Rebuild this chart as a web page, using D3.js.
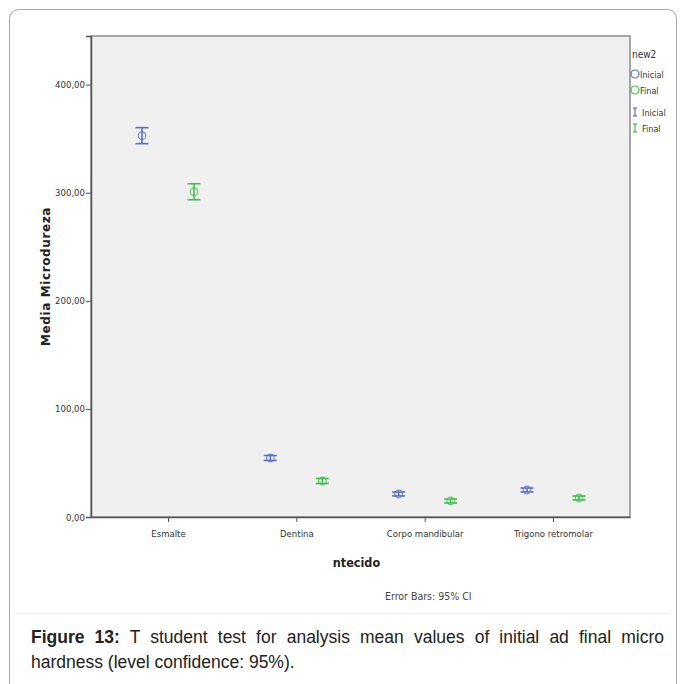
<!DOCTYPE html>
<html>
<head>
<meta charset="utf-8">
<script src="https://cdn.jsdelivr.net/npm/d3@7"></script>
<style>
  body { margin: 0; background: #fff; }
  svg { display: block; }
</style>
</head>
<body>
<svg id="chart" width="683" height="684"></svg>
<script>
// data
const tecidos = ["Esmalte", "Dentina", "Corpo mandibular", "Trigono retromolar"];
const grupos = ["Inicial", "Final"];
const inicialMean = [352.8, 54.6, 21.3, 25.0];
const inicialLow = [345.4, 52.3, 19.5, 23.2];
const inicialHigh = [360.2, 56.9, 23.1, 26.8];
const finalMean = [301.0, 33.3, 14.8, 17.6];
const finalLow = [293.5, 31.0, 13.0, 15.8];
const finalHigh = [308.3, 35.6, 16.6, 19.4];
const yTicks = [0, 100, 200, 300, 400];

const colors = { Inicial: "#5a6fc7", Final: "#3fbf4f" };
const narrow = "'DejaVu Sans Condensed', 'Liberation Sans Narrow', sans-serif";

const rows = [];
tecidos.forEach((t, i) => {
    rows.push({ tecido: t, grupo: "Inicial", mean: inicialMean[i], lo: inicialLow[i], hi: inicialHigh[i] });
    rows.push({ tecido: t, grupo: "Final", mean: finalMean[i], lo: finalLow[i], hi: finalHigh[i] });
});

const svg = d3.select("#chart");
const plot = { left: 91, right: 630, top: 36, bottom: 517 };

// outer frame
svg.append("rect")
    .attr("x", 9.5).attr("y", 9.5)
    .attr("width", 667).attr("height", 700)
    .attr("rx", 9)
    .style("fill", "none")
    .style("stroke", "#a8a8a8");

svg.append("line")
    .attr("x1", 12).attr("x2", 670)
    .attr("y1", 613.5).attr("y2", 613.5)
    .style("stroke", "#eeeeee");

const xScale = d3.scalePoint().domain(tecidos).range([plot.left, plot.right]).padding(0.6);
const offset = d3.scalePoint().domain(grupos).range([-26, 26]);
const yScale = d3.scaleLinear().domain([0, 445]).range([plot.bottom, plot.top]);

svg.append("rect")
    .attr("x", plot.left).attr("y", plot.top)
    .attr("width", plot.right - plot.left).attr("height", plot.bottom - plot.top)
    .style("fill", "#f0f0f0")
    .style("stroke", "#8a8a8a")
    .style("stroke-width", 1.5);

const yAxis = d3.axisLeft(yScale)
    .tickValues(yTicks)
    .tickSize(5)
    .tickFormat((d) => d3.format(".2f")(d).replace(".", ","));

svg.append("g")
    .attr("transform", `translate(${plot.left}, 0)`)
    .call(yAxis)
    .call((g) => g.select(".domain").style("stroke", "#555").style("stroke-width", 1.5))
    .call((g) => g.selectAll(".tick line").style("stroke", "#555"))
    .call((g) => g.selectAll("text").attr("x", -6).style("font-family", narrow).style("font-size", "9.5px").style("fill", "#333"));

const xAxis = d3.axisBottom(xScale).tickSize(5).tickSizeOuter(0);

svg.append("g")
    .attr("transform", `translate(0, ${plot.bottom})`)
    .call(xAxis)
    .call((g) => g.select(".domain").style("stroke", "#555").style("stroke-width", 1.5))
    .call((g) => g.selectAll(".tick line").style("stroke", "#555"))
    .call((g) => g.selectAll("text").attr("dy", "1.3em").style("font-family", narrow).style("font-size", "9.5px").style("fill", "#333"));

// error bars and means
const marks = svg.append("g")
    .selectAll("g")
    .data(rows)
    .join("g")
    .attr("transform", (d) => `translate(${xScale(d.tecido) + offset(d.grupo)}, 0)`)
    .style("stroke", (d) => colors[d.grupo])
    .style("stroke-width", 1.6)
    .style("fill", "none");

marks.append("line")
    .attr("y1", (d) => yScale(d.lo)).attr("y2", (d) => yScale(d.hi));
marks.append("line")
    .attr("x1", -6.5).attr("x2", 6.5)
    .attr("y1", (d) => yScale(d.lo)).attr("y2", (d) => yScale(d.lo));
marks.append("line")
    .attr("x1", -6.5).attr("x2", 6.5)
    .attr("y1", (d) => yScale(d.hi)).attr("y2", (d) => yScale(d.hi));
marks.append("circle")
    .attr("cy", (d) => yScale(d.mean))
    .attr("r", 3.8)
    .style("stroke-width", 1.2)
    .style("stroke-opacity", 0.8);

// axis titles
svg.append("text")
    .attr("transform", `translate(50, ${(plot.top + plot.bottom) / 2}) rotate(-90)`)
    .attr("text-anchor", "middle")
    .style("font-family", "'DejaVu Sans', sans-serif")
    .style("font-weight", "bold")
    .style("font-size", "12px")
    .style("letter-spacing", "0.6px")
    .style("fill", "#222")
    .text("Media Microdureza");

svg.append("text")
    .attr("x", (plot.left + plot.right) / 2 - 4).attr("y", 567)
    .attr("text-anchor", "middle")
    .style("font-family", "'DejaVu Sans Condensed', 'DejaVu Sans', sans-serif")
    .style("font-weight", "bold")
    .style("font-size", "12.5px")
    .style("fill", "#222")
    .text("ntecido");

svg.append("text")
    .attr("x", 385).attr("y", 600)
    .style("font-family", narrow)
    .style("font-size", "10.5px")
    .style("fill", "#444")
    .text("Error Bars: 95% CI");

// legend
const legend = svg.append("g").style("font-family", narrow).style("font-size", "9px").style("fill", "#333");
legend.append("text").attr("x", 632).attr("y", 58).style("font-size", "10px").text("new2");
grupos.forEach((g, i) => {
    const y = 74 + i * 16;
    legend.append("circle").attr("cx", 635).attr("cy", y).attr("r", 4)
        .style("fill", "none").style("stroke", colors[g]).style("stroke-width", 1.2);
    legend.append("text").attr("x", 640).attr("y", y + 3.5).text(g);
    const y2 = 112 + i * 16;
    const bar = legend.append("g").style("stroke", colors[g]).style("stroke-width", 1.2);
    bar.append("line").attr("x1", 635).attr("x2", 635).attr("y1", y2 - 4).attr("y2", y2 + 4);
    bar.append("line").attr("x1", 633).attr("x2", 637).attr("y1", y2 - 4).attr("y2", y2 - 4);
    bar.append("line").attr("x1", 633).attr("x2", 637).attr("y1", y2 + 4).attr("y2", y2 + 4);
    legend.append("text").attr("x", 642).attr("y", y2 + 3.5).text(g);
});

// caption, first line justified to the box width
const caption = svg.append("g")
    .style("font-family", "'Liberation Sans', Arial, sans-serif")
    .style("font-size", "17.5px")
    .style("fill", "#222");
const line1 = caption.append("text").attr("x", 31).attr("y", 643);
line1.append("tspan").style("font-weight", "bold").text("Figure 13:");
line1.append("tspan").text(" T student test for analysis mean values of initial ad final micro");
const natural = line1.node().getComputedTextLength();
const gaps = 13;
if (natural < 633) line1.style("word-spacing", ((633 - natural) / gaps) + "px");
else line1.attr("textLength", 633).attr("lengthAdjust", "spacingAndGlyphs");
caption.append("text").attr("x", 31).attr("y", 668).text("hardness (level confidence: 95%).");
</script>
</body>
</html>
